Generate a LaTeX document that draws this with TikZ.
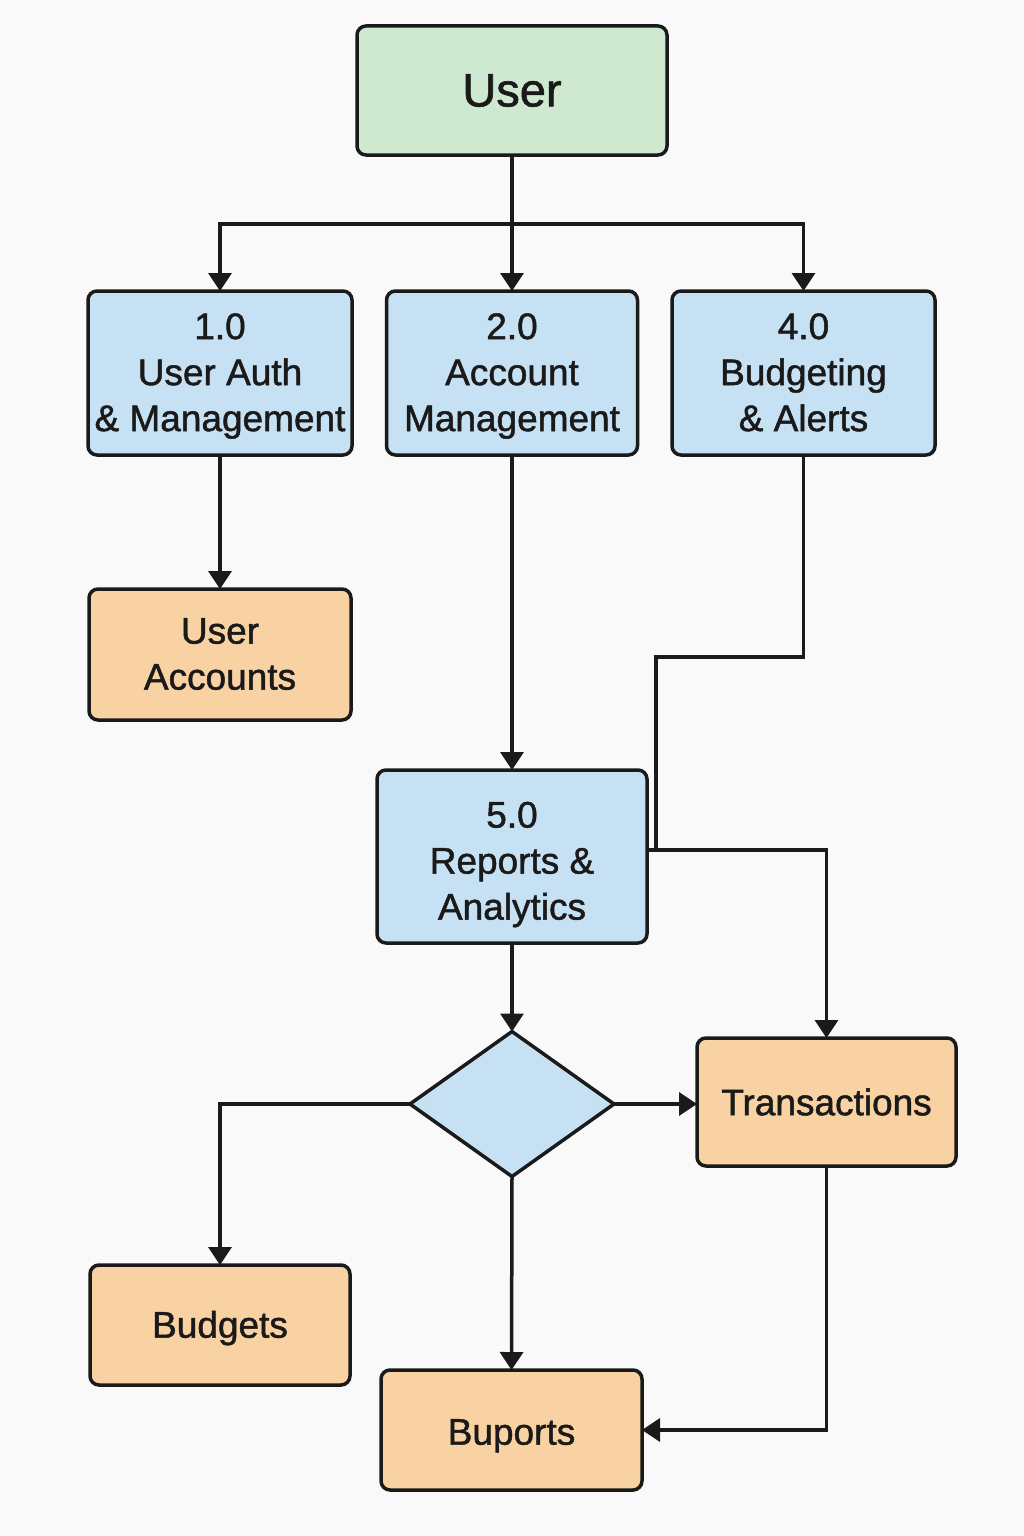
\documentclass[tikz,border=0pt]{standalone}
\usepackage{fontspec}
\setmainfont[FakeBold=1.3]{Liberation Sans}
\usetikzlibrary{arrows.meta,shapes.geometric}
\definecolor{bg}{HTML}{F9F9F9}
\definecolor{gfill}{HTML}{CFE9D1}
\definecolor{bfill}{HTML}{C6E1F4}
\definecolor{ofill}{HTML}{F9D2A3}
\definecolor{ink}{HTML}{1A1A1A}
\newcommand\toprule[1]{\rule{0pt}{#1}}
\begin{document}
\begin{tikzpicture}[x=1pt,y=-1pt,
  box/.style={draw=ink,line width=3.5pt,rounded corners=9pt,inner sep=0pt,outer sep=0pt,
    align=center,font=\fontsize{37}{46}\selectfont,text=ink},
  proc/.style={box,fill=bfill},
  store/.style={box,fill=ofill},
  dia/.style={draw=ink,line width=3.5pt,fill=bfill,diamond,inner sep=0pt,outer sep=0pt,aspect=1.4},
  conn/.style={draw=ink,line width=3.5pt},
  arr/.style={conn,-{Triangle[length=18pt,width=23pt]}}]
\fill[bg] (0,0) rectangle (1024,1536);
\useasboundingbox (0,0) rectangle (1024,1536);

\node[box,fill=gfill,minimum width=310pt,minimum height=129pt,font=\fontsize{47}{50}\selectfont] (user) at (512,90.5) {User};
\node[proc,minimum width=264pt,minimum height=164pt] (p1) at (220,373) {\toprule{38pt}1.0\\\strut User Auth\\\strut\& Management};
\node[proc,minimum width=251pt,minimum height=164pt] (p2) at (512,373) {\toprule{38pt}2.0\\\strut Account\\\strut Management};
\node[proc,minimum width=263pt,minimum height=164pt] (p4) at (803.5,373) {\toprule{38pt}4.0\\\strut Budgeting\\\strut\& Alerts};
\node[store,minimum width=262pt,minimum height=131pt] (ua) at (220,654.5) {\toprule{38pt}User\\\strut Accounts};
\node[proc,minimum width=270pt,minimum height=173pt] (p5) at (512,856.5) {\toprule{48pt}5.0\\\strut Reports \&\\\strut Analytics};
\node[dia,minimum width=204pt,minimum height=145pt] (d) at (512,1104) {};
\node[store,minimum width=259pt,minimum height=128pt] (tr) at (826.5,1102) {Transactions};
\node[store,minimum width=260pt,minimum height=120pt] (bud) at (220,1325) {\toprule{33pt}Budgets};
\node[store,minimum width=261pt,minimum height=120pt] (bup) at (511.5,1430) {\toprule{37pt}Buports};

\coordinate (j) at (512,224);
\coordinate (k1) at (803.5,657);
\coordinate (k2) at (656,657);
\coordinate (k3) at (656,850);
\coordinate (p5e) at (647,850);

\draw[arr] (user.south) -- (p2.north);
\draw[arr] (j) -| (p1.north);
\draw[arr] (j) -| (p4.north);
\draw[arr] (p1.south) -- (ua.north);
\draw[arr] (p2.south) -- (p5.north);
\draw[conn] (p4.south) -- (k1) -- (k2) -- (k3);
\draw[arr] (p5e) -| (tr.north);
\draw[arr] (p5.south) -- (d.north);
\draw[arr] (d.east) -- (tr.west |- d.east);
\draw[arr] (d.west) -| (bud.north);
\draw[arr] (d.south) -- (bup.north);
\draw[arr] (tr.south) |- (bup.east);
\end{tikzpicture}
\end{document}
